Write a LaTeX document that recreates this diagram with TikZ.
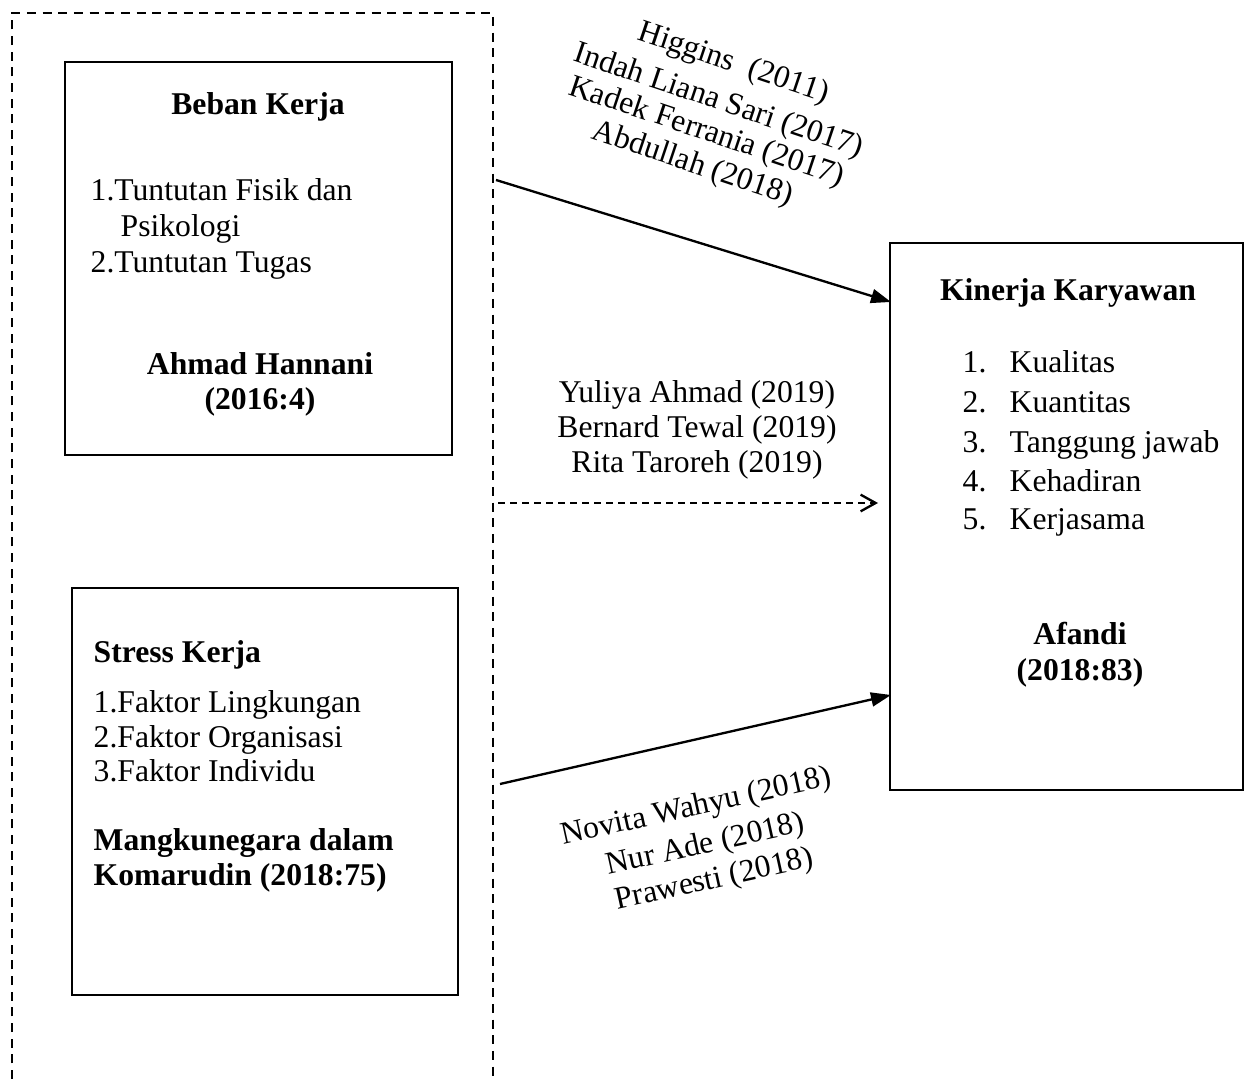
\documentclass[tikz,border=0pt]{standalone}
\usepackage{fontspec}
\setmainfont{Liberation Serif}
\usetikzlibrary{arrows.meta}
\begin{document}
\begin{tikzpicture}[x=0.3pt,y=-0.3pt,
  box/.style={draw,line width=0.8pt,inner sep=0pt,rectangle},
  txt/.style={inner sep=0pt,font=\fontsize{9.5}{10.7}\selectfont},
  lt/.style={txt,anchor=base west},
  ct/.style={txt,anchor=base},
  conn/.style={line width=0.7pt,-{Triangle[length=6pt,width=4.2pt]}},
  dconn/.style={line width=0.6pt,dash pattern=on 2.1pt off 1.5pt,-{Straight Barb[length=4.5pt,width=5pt,line width=0.7pt]}},
  frame/.style={line width=0.6pt,dash pattern=on 2.7pt off 2pt}]
\useasboundingbox (0,0) rectangle (1250,1079);

% dashed frame
\coordinate (f1) at (12,1079);
\coordinate (f2) at (12,13);
\coordinate (f3) at (493,13);
\coordinate (f4) at (493,1079);
\draw[frame] (f1) -- (f2) -- (f3) -- (f4);

% boxes
\node[box,minimum width=116.1pt,minimum height=117.9pt] (b1) at (258.5,258.5) {};
\node[box,minimum width=115.8pt,minimum height=122.1pt] (b2) at (265,791.5) {};
\node[box,minimum width=105.9pt,minimum height=164.1pt] (b3) at (1066.5,516.5) {};

% box 1 text
\node[ct] (t11) at (258,115) {\textbf{Beban Kerja}};
\node[lt] (t12) at (90,201) {1.Tuntutan Fisik dan};
\node[lt] (t13) at (120,237) {Psikologi};
\node[lt] (t14) at (90,273) {2.Tuntutan Tugas};
\node[ct] (t15) at (260,375) {\textbf{Ahmad Hannani}};
\node[ct] (t16) at (260,410) {\textbf{(2016:4)}};

% box 2 text
\node[lt] (t21) at (93,662) {\textbf{Stress Kerja}};
\node[lt] (t22) at (93,712) {1.Faktor Lingkungan};
\node[lt] (t23) at (93,747) {2.Faktor Organisasi};
\node[lt] (t24) at (93,781) {3.Faktor Individu};
\node[lt] (t25) at (93,850) {\textbf{Mangkunegara dalam}};
\node[lt] (t26) at (93,885) {\textbf{Komarudin (2018:75)}};

% box 3 text
\node[ct] (t31) at (1068,301) {\textbf{Kinerja Karyawan}};
\node[lt] (n1) at (962,373) {1.};
\node[lt] (k1) at (1009,373) {Kualitas};
\node[lt] (n2) at (962,413) {2.};
\node[lt] (k2) at (1009,413) {Kuantitas};
\node[lt] (n3) at (962,453) {3.};
\node[lt] (k3) at (1009,453) {Tanggung jawab};
\node[lt] (n4) at (962,492) {4.};
\node[lt] (k4) at (1009,492) {Kehadiran};
\node[lt] (n5) at (962,530) {5.};
\node[lt] (k5) at (1009,530) {Kerjasama};
\node[ct] (t32) at (1080,644) {\textbf{Afandi}};
\node[ct] (t33) at (1080,680) {\textbf{(2018:83)}};

% connectors
\coordinate (s1) at (496,180);
\coordinate (e1) at (891,302);
\draw[conn] (s1) -- (e1);
\coordinate (s2) at (498,503);
\coordinate (e2) at (878,503);
\draw[dconn] (s2) -- (e2);
\coordinate (s3) at (500,784);
\coordinate (e3) at (891,695);
\draw[conn] (s3) -- (e3);

% top rotated labels
\node[ct,rotate=-18.5] (r1) at (731,71) {Higgins\ \ (2011)};
\node[ct,rotate=-18.5] (r2) at (716,109) {Indah Liana Sari (2017)};
\node[ct,rotate=-18.5] (r3) at (704,140) {Kadek Ferrania (2017)};
\node[ct,rotate=-18.5] (r4) at (690,172) {Abdullah (2018)};

% middle labels
\node[ct] (m1) at (697,403) {Yuliya Ahmad (2019)};
\node[ct] (m2) at (697,438) {Bernard Tewal (2019)};
\node[ct] (m3) at (697,473) {Rita Taroreh (2019)};

% bottom rotated labels
\node[ct,rotate=12.5] (q1) at (698,815) {Novita Wahyu (2018)};
\node[ct,rotate=12.5] (q2) at (707,853) {Nur Ade (2018)};
\node[ct,rotate=12.5] (q3) at (716,888) {Prawesti (2018)};
\end{tikzpicture}
\end{document}
